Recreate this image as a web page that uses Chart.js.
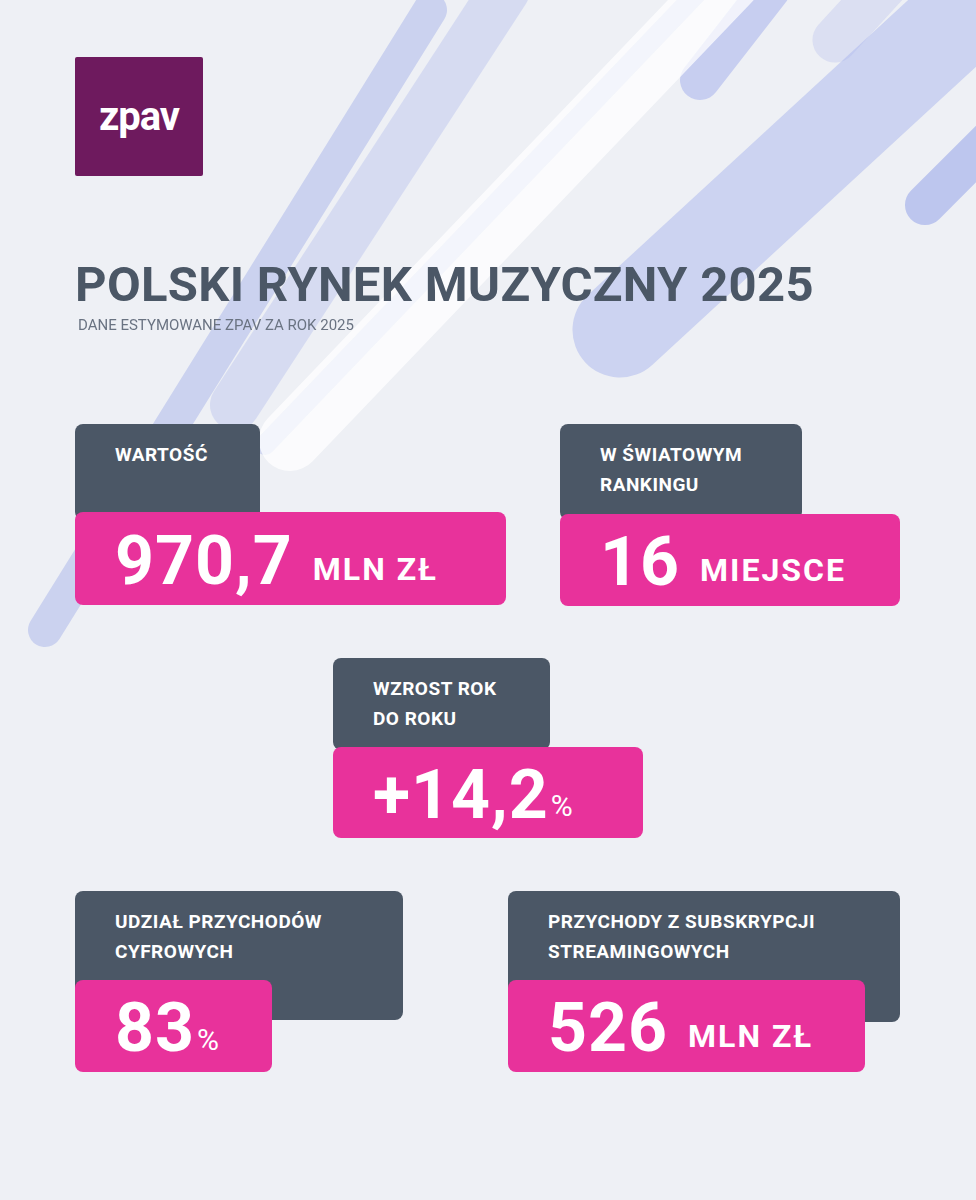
<!DOCTYPE html>
<html><head><meta charset="utf-8">
<script src="https://cdn.jsdelivr.net/npm/chart.js@4/dist/chart.umd.min.js"></script>
<style>
body{margin:0;background:#eef0f5;font-family:Roboto,"DejaVu Sans",sans-serif;}
#wrap{position:relative;width:976px;height:1200px;overflow:hidden;background:#eef0f5}
#bg{position:absolute;left:0;top:0;width:976px;height:1200px}
.abs{position:absolute}
.grey{background:#4b5766;border-radius:8px;color:#fff;font-weight:700;font-size:19px;line-height:30px;box-sizing:border-box;padding:16px 0 0 40px;letter-spacing:0.5px}
.pink{background:#e8329b;border-radius:8px;color:#fff;font-weight:700;box-sizing:border-box;padding-left:40px;display:flex;align-items:center;white-space:nowrap}
.big{font-size:68px;letter-spacing:1px;margin-top:4px}
.unit{font-size:32px;margin-left:20px;margin-top:20px;letter-spacing:2px}
.pct{font-size:30px;margin-left:2px;margin-top:26px;font-weight:400}
</style></head><body>
<div id="wrap">
<canvas id="bg" width="976" height="1200"></canvas>
<div class="abs" style="left:75px;top:57px;width:128px;height:119px;background:#6e1a5e;border-radius:2px;color:#fff;font-weight:700;font-size:40px;display:flex;align-items:center;justify-content:center;letter-spacing:-1px">zpav</div>
<div class="abs" style="left:75px;top:256px;font-size:49px;font-weight:700;color:#4b5766;letter-spacing:0.3px">POLSKI RYNEK MUZYCZNY 2025</div>
<div class="abs" style="left:78px;top:316px;font-size:15px;color:#6a7382">DANE ESTYMOWANE ZPAV ZA ROK 2025</div>
<div id="cards"></div>
</div>
<script>
const labels=["WARTOŚĆ","W ŚWIATOWYM<br>RANKINGU","WZROST ROK<br>DO ROKU","UDZIAŁ PRZYCHODÓW<br>CYFROWYCH","PRZYCHODY Z SUBSKRYPCJI<br>STREAMINGOWYCH"];
const values=["970,7","16","+14,2","83","526"];
const units=["MLN ZŁ","MIEJSCE","%","%","MLN ZŁ"];
const boxes=[[75,424,185,96,75,512,431,93],[560,424,242,96,560,514,340,92],[333,658,217,92,333,747,310,91],[75,891,328,129,75,980,197,92],[508,891,392,131,508,980,357,92]];
let h="";
for(let i=0;i<labels.length;i++){const b=boxes[i];
h+=`<div class="abs grey" style="left:${b[0]}px;top:${b[1]}px;width:${b[2]}px;height:${b[3]}px">${labels[i]}</div>`;
h+=`<div class="abs pink" style="left:${b[4]}px;top:${b[5]}px;width:${b[6]}px;height:${b[7]}px"><span class="big">${values[i]}</span><span class="${units[i]=='%'?'pct':'unit'}">${units[i]}</span></div>`;}
document.getElementById('cards').innerHTML=h;
const stripes=[[[45,630],[430,10],34,'rgba(150,165,230,0.4)'],[[235,405],[505,-10],50,'rgba(170,180,235,0.35)'],[[290,440],[730,-20],62,'rgba(255,255,255,0.75)'],[[265,445],[700,-10],20,'rgba(140,155,230,0.3)'],[[620,330],[1000,-20],95,'rgba(170,182,238,0.5)'],[[700,80],[770,-10],40,'rgba(150,165,235,0.45)'],[[925,205],[1000,130],40,'rgba(140,155,232,0.5)'],[[835,40],[890,-20],45,'rgba(200,205,240,0.5)']];
new Chart(document.getElementById('bg'),{type:'scatter',data:{datasets:stripes.map(s=>({data:[{x:s[0][0],y:s[0][1]},{x:s[1][0],y:s[1][1]}],showLine:true,borderWidth:s[2],borderColor:s[3],borderCapStyle:'round',pointRadius:0}))},
options:{responsive:false,animation:false,events:[],layout:{padding:0},plugins:{legend:{display:false},tooltip:{enabled:false}},
scales:{x:{type:'linear',min:0,max:976,display:false},y:{type:'linear',min:0,max:1200,reverse:true,display:false}}}});
</script>
</body></html>
